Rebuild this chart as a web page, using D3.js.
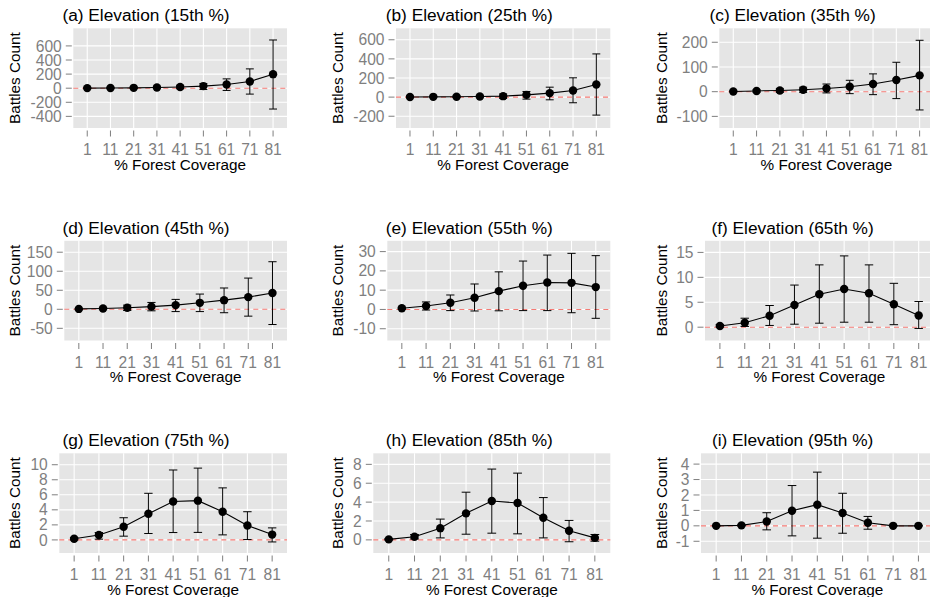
<!DOCTYPE html>
<html><head><meta charset="utf-8">
<script src="https://cdn.jsdelivr.net/npm/d3@7"></script>
<style>
body{margin:0;background:#fff}
svg{display:block}
text{font-family:"Liberation Sans",Arial,Helvetica,sans-serif}
</style>
</head><body>
<svg id="chart" width="930" height="597"></svg>
<script>
// ---------- data ----------
const forest = ["1","11","21","31","41","51","61","71","81"];
const titles = ["(a) Elevation (15th %)","(b) Elevation (25th %)","(c) Elevation (35th %)",
                "(d) Elevation (45th %)","(e) Elevation (55th %)","(f) Elevation (65th %)",
                "(g) Elevation (75th %)","(h) Elevation (85th %)","(i) Elevation (95th %)"];
const xTitle = "% Forest Coverage";
const yTitle = "Battles Count";

const meanA  = [1, 3, 5, 10, 17, 30, 53, 95, 199];
const lowerA = [-1, -3, -5, -6, -8, -18, -32, -84, -296];
const upperA = [3, 9, 15, 26, 42, 67, 132, 274, 684];
const ticksA = [-400, -200, 0, 200, 400, 600];
const limitsA = [-565, 850];

const meanB  = [1, 3, 4, 6, 10, 24, 42, 70, 132];
const lowerB = [-1, -2, -4, -6, -14, -21, -28, -59, -188];
const upperB = [3, 8, 12, 18, 33, 59, 104, 202, 452];
const ticksB = [-200, 0, 200, 400, 600];
const limitsB = [-323, 720];

const meanC  = [1, 3, 5, 8, 13, 20, 31, 47, 66];
const lowerC = [-1, -2, -3, -3, -5, -8, -12, -28, -74];
const upperC = [3, 7, 12, 18, 31, 46, 72, 119, 208];
const ticksC = [-100, 0, 100, 200];
const limitsC = [-147, 256.5];

const meanD  = [1, 2, 4, 7, 11, 17, 24, 32, 43];
const lowerD = [-1, -1, -3, -4, -6, -6, -9, -18, -40];
const upperD = [2, 5, 11, 18, 26, 40, 56, 82, 125];
const ticksD = [-50, 0, 50, 100, 150];
const limitsD = [-82, 180];

const meanE  = [0.6, 1.8, 3.5, 6.1, 9.5, 12.3, 14.0, 13.8, 11.6];
const lowerE = [0.1, -0.3, -0.6, -0.8, -0.7, -0.6, -0.6, -1.7, -4.6];
const upperE = [1.1, 3.9, 7.5, 13.2, 19.5, 25.1, 28.2, 29.1, 27.9];
const ticksE = [-10, 0, 10, 20, 30];
const limitsE = [-16.1, 35.6];

const meanF  = [0.25, 0.9, 2.3, 4.45, 6.6, 7.65, 6.8, 4.6, 2.35];
const lowerF = [0.05, 0.15, 0.35, 0.6, 0.8, 1.0, 1.0, 0.5, -0.25];
const upperF = [0.5, 1.8, 4.35, 8.45, 12.5, 14.3, 12.5, 8.8, 5.15];
const ticksF = [0, 5, 10, 15];
const limitsF = [-2.67, 17.33];

const meanG  = [0.15, 0.65, 1.75, 3.48, 5.1, 5.22, 3.75, 1.92, 0.71];
const lowerG = [0.0, 0.1, 0.5, 0.85, 0.98, 1.0, 0.67, 0.05, -0.27];
const upperG = [0.3, 0.98, 2.95, 6.2, 9.3, 9.55, 6.92, 3.75, 1.6];
const ticksG = [0, 2, 4, 6, 8, 10];
const limitsG = [-1.74, 11.52];

const meanH  = [0.05, 0.33, 1.24, 2.81, 4.12, 3.91, 2.35, 0.96, 0.21];
const lowerH = [0.0, 0.1, 0.21, 0.6, 0.71, 0.64, 0.21, -0.2, -0.14];
const upperH = [0.12, 0.57, 2.2, 5.05, 7.5, 7.07, 4.48, 2.06, 0.57];
const ticksH = [0, 2, 4, 6, 8];
const limitsH = [-1.39, 9.17];

const meanI  = [0, 0.03, 0.28, 0.98, 1.37, 0.83, 0.2, 0, 0];
const lowerI = [0, 0, -0.26, -0.65, -0.8, -0.48, -0.22, 0, 0];
const upperI = [0, 0.06, 0.85, 2.61, 3.48, 2.11, 0.61, 0, 0];
const ticksI = [-1, 0, 1, 2, 3, 4];
const limitsI = [-1.76, 4.7];

// ---------- layout ----------
const panels = [
  [meanA, lowerA, upperA, ticksA, limitsA],
  [meanB, lowerB, upperB, ticksB, limitsB],
  [meanC, lowerC, upperC, ticksC, limitsC],
  [meanD, lowerD, upperD, ticksD, limitsD],
  [meanE, lowerE, upperE, ticksE, limitsE],
  [meanF, lowerF, upperF, ticksF, limitsF],
  [meanG, lowerG, upperG, ticksG, limitsG],
  [meanH, lowerH, upperH, ticksH, limitsH],
  [meanI, lowerI, upperI, ticksI, limitsI]
];
const colX = [0, 323.3, 646.6];
const rowY = [0, 212.5, 425];
const panelLeftRel = [73.3, 72.7, 72.7, 64.3, 64, 58.4, 59.3, 50, 54.4];
const panelRightRel = 287, panelTopRel = 28.3, panelBottomRel = 128;

const svg = d3.select("#chart");
const greyText = "#7f7f7f";
const tickFont = 15.6;

panels.forEach((p, i) => {
  const [mean, lower, upper, ticks, limits] = p;
  const cx = colX[i % 3], cy = rowY[Math.floor(i / 3)];
  const L = cx + panelLeftRel[i], R = cx + panelRightRel;
  const T = cy + panelTopRel, B = cy + panelBottomRel;

  const x = d3.scalePoint().domain(forest).range([L, R]).padding(0.6);
  const y = d3.scaleLinear().domain(limits).range([B, T]);
  const g = svg.append("g");

  // panel background
  g.append("rect").attr("x", L).attr("y", T).attr("width", R - L).attr("height", B - T)
    .attr("fill", "#e5e5e5");

  // grid
  g.selectAll(".hg").data(ticks).enter().append("line")
    .attr("x1", L).attr("x2", R).attr("y1", d => y(d)).attr("y2", d => y(d))
    .attr("stroke", "#fff").attr("stroke-width", 1.1);
  g.selectAll(".vg").data(forest).enter().append("line")
    .attr("y1", T).attr("y2", B).attr("x1", d => x(d)).attr("x2", d => x(d))
    .attr("stroke", "#fff").attr("stroke-width", 1.1);

  // zero reference line
  g.append("line").attr("x1", L).attr("x2", R).attr("y1", y(0)).attr("y2", y(0))
    .attr("stroke", "#f47a74").attr("stroke-width", 1.1).attr("stroke-dasharray", "5,4");

  // y axis ticks + labels
  g.selectAll(".yt").data(ticks).enter().append("line")
    .attr("x1", L - 7.5).attr("x2", L - 1.5).attr("y1", d => y(d)).attr("y2", d => y(d))
    .attr("stroke", greyText).attr("stroke-width", 1);
  g.selectAll(".yl").data(ticks).enter().append("text")
    .attr("x", L - 11.5).attr("y", d => y(d)).attr("dy", "0.36em")
    .attr("text-anchor", "end").attr("font-size", tickFont).attr("fill", greyText)
    .text(d => d);

  // x axis ticks + labels
  g.selectAll(".xt").data(forest).enter().append("line")
    .attr("x1", d => x(d)).attr("x2", d => x(d)).attr("y1", B + 2.5).attr("y2", B + 8.5)
    .attr("stroke", greyText).attr("stroke-width", 1);
  g.selectAll(".xl").data(forest).enter().append("text")
    .attr("x", d => x(d)).attr("y", B + 27)
    .attr("text-anchor", "middle").attr("font-size", tickFont).attr("fill", greyText)
    .text(d => d);

  // titles
  g.append("text").attr("x", cx + 146).attr("y", T - 7.3).attr("text-anchor", "middle")
    .attr("font-size", 17.3).attr("fill", "#000").text(titles[i]);
  g.append("text").attr("x", (L + R) / 2).attr("y", B + 41.5).attr("text-anchor", "middle")
    .attr("font-size", 15.3).attr("fill", "#000").text(xTitle);
  g.append("text").attr("transform", `translate(${cx + 20},${(T + B) / 2}) rotate(-90)`)
    .attr("text-anchor", "middle").attr("font-size", 15.3).attr("fill", "#000").text(yTitle);

  // error bars
  const idx = d3.range(forest.length);
  const cap = x.step() * 0.17;
  g.selectAll(".eb").data(idx).enter().append("line")
    .attr("x1", k => x(forest[k])).attr("x2", k => x(forest[k]))
    .attr("y1", k => y(lower[k])).attr("y2", k => y(upper[k]))
    .attr("stroke", "#000").attr("stroke-width", 1);
  [lower, upper].forEach(arr => {
    g.selectAll(null).data(idx).enter().append("line")
      .attr("x1", k => x(forest[k]) - cap).attr("x2", k => x(forest[k]) + cap)
      .attr("y1", k => y(arr[k])).attr("y2", k => y(arr[k]))
      .attr("stroke", "#000").attr("stroke-width", 1);
  });

  // mean line + points
  g.append("path").datum(idx)
    .attr("d", d3.line().x(k => x(forest[k])).y(k => y(mean[k])))
    .attr("fill", "none").attr("stroke", "#000").attr("stroke-width", 1.1);
  g.selectAll(".pt").data(idx).enter().append("circle")
    .attr("cx", k => x(forest[k])).attr("cy", k => y(mean[k])).attr("r", 4.2)
    .attr("fill", "#000");
});
</script>
</body></html>
